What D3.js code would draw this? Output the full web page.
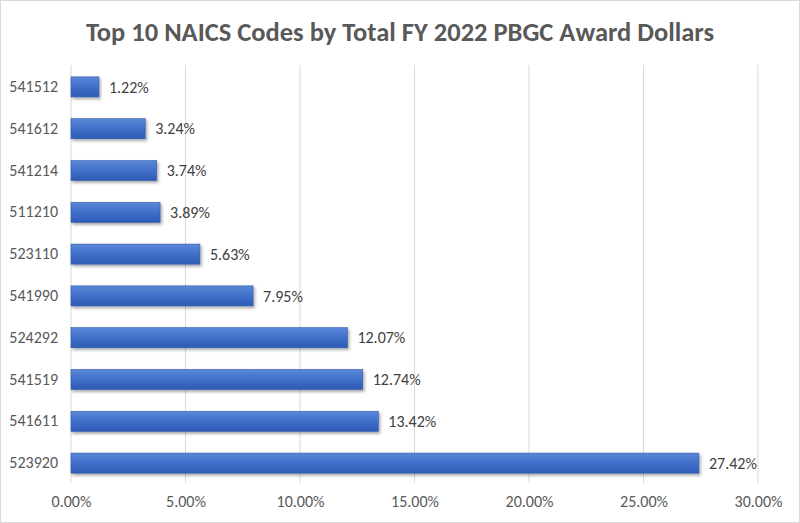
<!DOCTYPE html>
<html>
<head>
<meta charset="utf-8">
<script src="https://cdn.jsdelivr.net/npm/d3@7"></script>
<style>
  html, body { margin: 0; padding: 0; background: #fff; }
  svg { display: block; font-family: Carlito, Calibri, "Open Sans", sans-serif; }
</style>
</head>
<body>
<div id="chart"></div>
<script>
// NAICS 代码及占比（从上到下）
const codes = ['541512', '541612', '541214', '511210', '523110', '541990', '524292', '541519', '541611', '523920'];
const shares = [1.22, 3.24, 3.74, 3.89, 5.63, 7.95, 12.07, 12.74, 13.42, 27.42];
const xTicks = [0, 5, 10, 15, 20, 25, 30];
const titleText = 'Top 10 NAICS Codes by Total FY 2022 PBGC Award Dollars';

function draw() {
    const width = 800;
    const height = 523;

    const svg = d3.select('#chart')
        .append('svg')
        .attr('width', width)
        .attr('height', height);

    // 渐变与阴影
    const defs = svg.append('defs');
    const grad = defs.append('linearGradient')
        .attr('id', 'barGrad')
        .attr('x1', 0).attr('y1', 0).attr('x2', 0).attr('y2', 1);
    grad.append('stop').attr('offset', '0%').attr('stop-color', '#5b88d8');
    grad.append('stop').attr('offset', '50%').attr('stop-color', '#3f6fc9');
    grad.append('stop').attr('offset', '100%').attr('stop-color', '#2d5bb5');

    const shadow = defs.append('filter')
        .attr('id', 'shadow')
        .attr('x', '-5%').attr('y', '-20%').attr('width', '115%').attr('height', '160%');
    shadow.append('feDropShadow')
        .attr('dx', 1.5).attr('dy', 2)
        .attr('stdDeviation', 1.5)
        .attr('flood-color', '#000')
        .attr('flood-opacity', 0.35);

    // 外框
    svg.append('rect')
        .attr('x', 0.5).attr('y', 0.5)
        .attr('width', width - 1).attr('height', height - 1)
        .attr('fill', '#fff')
        .attr('stroke', '#d9d9d9');

    const xScale = d3.scaleLinear()
        .domain([0, 30])
        .range([71, 758]);

    const yScale = d3.scaleBand()
        .domain(codes)
        .range([66, 484])
        .paddingInner(0.52)
        .paddingOuter(0.26);

    // 网格线
    svg.append('g')
        .selectAll('line')
        .data(xTicks)
        .enter()
        .append('line')
        .attr('x1', d => xScale(d))
        .attr('x2', d => xScale(d))
        .attr('y1', 65)
        .attr('y2', 483)
        .attr('stroke', '#d9d9d9')
        .attr('stroke-width', 1);

    // X 轴标签
    const xAxis = svg.append('g')
        .attr('transform', 'translate(0,496)')
        .call(d3.axisBottom(xScale).tickValues(xTicks).tickSize(0).tickPadding(0)
            .tickFormat(d => d.toFixed(2) + '%'));
    xAxis.select('.domain').remove();
    xAxis.selectAll('text')
        .attr('dy', '0.71em')
        .style('font-size', '16px')
        .style('fill', '#595959')
        .style('font-family', 'Carlito, Calibri, "Open Sans", sans-serif');

    // Y 轴标签
    const yAxis = svg.append('g')
        .attr('transform', 'translate(58,0)')
        .call(d3.axisLeft(yScale).tickSize(0).tickPadding(0));
    yAxis.select('.domain').remove();
    yAxis.selectAll('text')
        .style('font-size', '16px')
        .style('fill', '#595959')
        .style('font-family', 'Carlito, Calibri, "Open Sans", sans-serif');

    // 柱状图
    svg.append('g')
        .selectAll('rect')
        .data(shares)
        .enter()
        .append('rect')
        .attr('x', xScale(0))
        .attr('y', (d, i) => yScale(codes[i]))
        .attr('width', d => xScale(d) - xScale(0))
        .attr('height', yScale.bandwidth())
        .attr('fill', 'url(#barGrad)')
        .attr('stroke', '#2f5cae')
        .attr('stroke-width', 0.6)
        .attr('filter', 'url(#shadow)');

    // 数值标签
    svg.append('g')
        .selectAll('text')
        .data(shares)
        .enter()
        .append('text')
        .attr('x', d => xScale(d) + 10)
        .attr('y', (d, i) => yScale(codes[i]) + yScale.bandwidth() / 2)
        .attr('dy', '0.35em')
        .style('font-size', '16px')
        .style('fill', '#404040')
        .text(d => d.toFixed(2) + '%');

    // 标题
    svg.append('text')
        .attr('x', width / 2)
        .attr('y', 41)
        .attr('text-anchor', 'middle')
        .style('font-size', '26.5px')
        .style('font-weight', 'bold')
        .style('fill', '#595959')
        .text(titleText);
}

draw();
</script>
</body>
</html>
